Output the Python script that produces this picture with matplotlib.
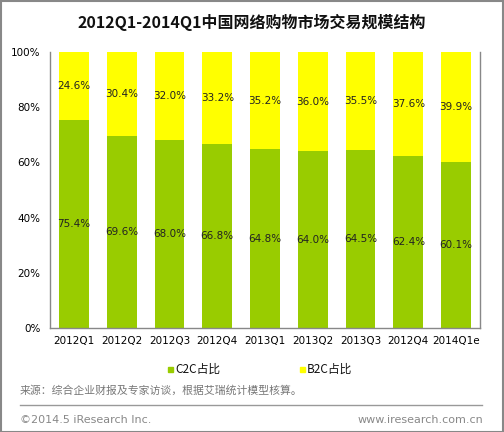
import matplotlib
matplotlib.use("Agg")
import matplotlib.pyplot as plt
from matplotlib.patches import Rectangle
from matplotlib.lines import Line2D

plt.rcParams['font.family'] = ['Noto Sans CJK SC', 'DejaVu Sans']

categories = ["2012Q1", "2012Q2", "2012Q3", "2012Q4", "2013Q1", "2013Q2", "2013Q3", "2012Q4", "2014Q1e"]
c2c = [75.4, 69.6, 68.0, 66.8, 64.8, 64.0, 64.5, 62.4, 60.1]
b2c = [24.6, 30.4, 32.0, 33.2, 35.2, 36.0, 35.5, 37.6, 39.9]
yticks = [0, 20, 40, 60, 80, 100]
ytick_labels = ["0%", "20%", "40%", "60%", "80%", "100%"]

GREEN = "#99CC00"
YELLOW = "#FFFF00"
W, H = 504, 432

fig = plt.figure(figsize=(W / 100, H / 100), dpi=100)
ax = fig.add_axes([50 / W, 1 - 328 / H, 430 / W, 276 / H])

x = list(range(len(categories)))
ax.bar(x, c2c, width=0.625, color=GREEN, zorder=2)
ax.bar(x, b2c, bottom=c2c, width=0.625, color=YELLOW, zorder=2)
for i in x:
    ax.text(i, c2c[i] / 2, f"{c2c[i]:.1f}%", ha="center", va="center", fontsize=7.5, family="DejaVu Sans", color="#222222")
    ax.text(i, c2c[i] + b2c[i] / 2, f"{b2c[i]:.1f}%", ha="center", va="center", fontsize=7.5, family="DejaVu Sans", color="#222222")

ax.set_xlim(-0.5, len(categories) - 0.5)
ax.set_ylim(0, 100)
ax.set_yticks(yticks)
ax.set_yticklabels(ytick_labels, fontsize=7.5, family="DejaVu Sans")
ax.set_xticks(x)
ax.set_xticklabels(categories, fontsize=7.5, family="DejaVu Sans")
ax.tick_params(length=0, pad=6)
ax.tick_params(axis="y", pad=7)
for s in ["left", "right", "bottom"]:
    ax.spines[s].set_color("#888888")
    ax.spines[s].set_linewidth(1)
ax.spines["top"].set_visible(False)

# title
fig.text(0.5, 1 - 22 / H, "2012Q1-2014Q1中国网络购物市场交易规模结构", ha="center", va="center",
         fontsize=11.5, fontweight="bold", color="#111111")

# legend
fig.patches.append(Rectangle((168 / W, 1 - 372 / H), 5 / W, 5 / H, transform=fig.transFigure, color=GREEN))
fig.text(175 / W, 1 - 369 / H, "C2C占比", ha="left", va="center", fontsize=8.5, color="#111111")
fig.patches.append(Rectangle((300 / W, 1 - 372 / H), 5 / W, 5 / H, transform=fig.transFigure, color=YELLOW))
fig.text(307 / W, 1 - 369 / H, "B2C占比", ha="left", va="center", fontsize=8.5, color="#111111")

# source
fig.text(20 / W, 1 - 391 / H, "来源：综合企业财报及专家访谈，根据艾瑞统计模型核算。", ha="left", va="center",
         fontsize=7.8, color="#777777")
fig.add_artist(Line2D([20 / W, 482 / W], [1 - 405 / H, 1 - 405 / H], transform=fig.transFigure,
                      color="#999999", linewidth=1))
fig.text(20 / W, 1 - 420 / H, "©2014.5 iResearch Inc.", ha="left", va="center", fontsize=8,
         color="#888888", family="DejaVu Sans")
fig.text(483 / W, 1 - 420 / H, "www.iresearch.com.cn", ha="right", va="center", fontsize=8,
         color="#888888", family="DejaVu Sans")

# outer frame
fig.patches.append(Rectangle((0.5 / W, 0.5 / H), 1 - 1.5 / W, 1 - 1.5 / H, transform=fig.transFigure,
                             fill=False, edgecolor="#888888", linewidth=1.5))

fig.savefig("out.png", dpi=100)
